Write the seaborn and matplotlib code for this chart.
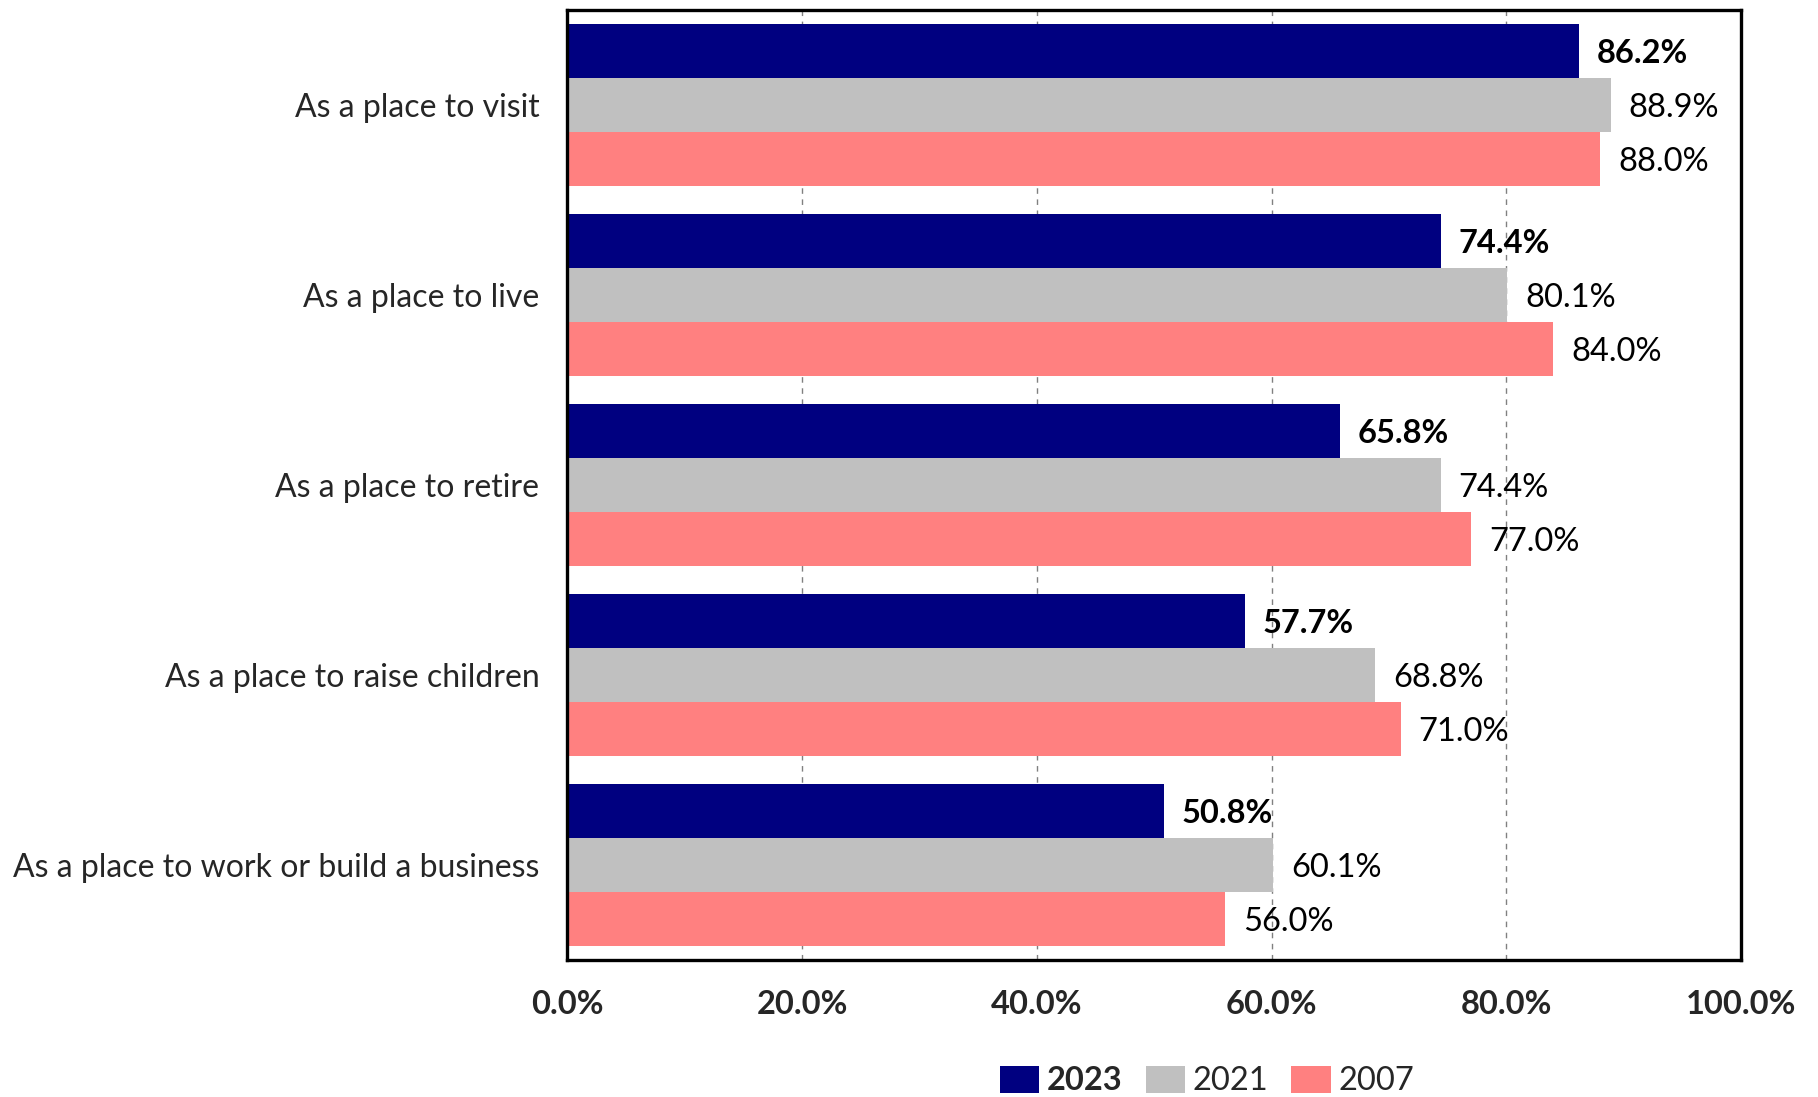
import matplotlib
matplotlib.use("Agg")
import matplotlib.pyplot as plt
import seaborn as sns
import pandas as pd
from matplotlib.ticker import FuncFormatter

categories = [
    "As a place to visit",
    "As a place to live",
    "As a place to retire",
    "As a place to raise children",
    "As a place to work or build a business",
]
years = ["2023", "2021", "2007"]
values_2023 = [86.2, 74.4, 65.8, 57.7, 50.8]
values_2021 = [88.9, 80.1, 74.4, 68.8, 60.1]
values_2007 = [88.0, 84.0, 77.0, 71.0, 56.0]
colors = ["#000080", "#C0C0C0", "#FF8080"]

rows = []
for year, vals in zip(years, [values_2023, values_2021, values_2007]):
    for cat, v in zip(categories, vals):
        rows.append({"category": cat, "year": year, "value": v})
df = pd.DataFrame(rows)

sns.set_style("white")
plt.rcParams["font.family"] = ["Lato", "DejaVu Sans"]
FS = 23.5

fig = plt.figure(figsize=(18.18, 10.97), dpi=100)
ax = fig.add_axes([0.312, 0.125, 0.6457, 0.866])

sns.barplot(
    data=df, y="category", x="value", hue="year", order=categories,
    hue_order=years, palette=colors, orient="h", width=0.853, gap=0,
    saturation=1, errorbar=None, ax=ax, legend=True, linewidth=0,
)

ax.set_xlim(0, 100)
ax.set_ylim(4.5, -0.5)
ax.set_xticks([0, 20, 40, 60, 80, 100])
ax.xaxis.set_major_formatter(FuncFormatter(lambda v, p: f"{v:.1f}%"))
ax.tick_params(axis="x", length=0, pad=22, labelsize=FS)
ax.tick_params(axis="y", length=0, pad=20, labelsize=23)
for lbl in ax.get_xticklabels():
    lbl.set_fontweight("bold")
ax.set_xlabel("")
ax.set_ylabel("")

ax.set_axisbelow(True)
ax.grid(axis="x", color="#808080", linestyle=(0, (4, 4)), linewidth=1.0)
ax.grid(axis="y", visible=False)
for s in ax.spines.values():
    s.set_visible(True)
    s.set_color("black")
    s.set_linewidth(2.4)

for container, year in zip(ax.containers, years):
    anns = ax.bar_label(
        container, fmt="%.1f%%", padding=13, fontsize=FS,
        fontweight="bold" if year == "2023" else "normal", color="black",
    )
    for a in anns:
        a.xyann = (13, -2)

handles, labels = ax.get_legend_handles_labels()
ax.get_legend().remove()
leg = fig.legend(
    handles, labels, loc="center", bbox_to_anchor=(0.664, 0.0146), ncol=3,
    frameon=False, fontsize=FS, handlelength=1.2, handleheight=0.9,
    handletextpad=0.25, columnspacing=0.7, borderpad=0,
)
for t in leg.get_texts():
    if t.get_text() == "2023":
        t.set_fontweight("bold")

fig.savefig("out.png", dpi=100)
